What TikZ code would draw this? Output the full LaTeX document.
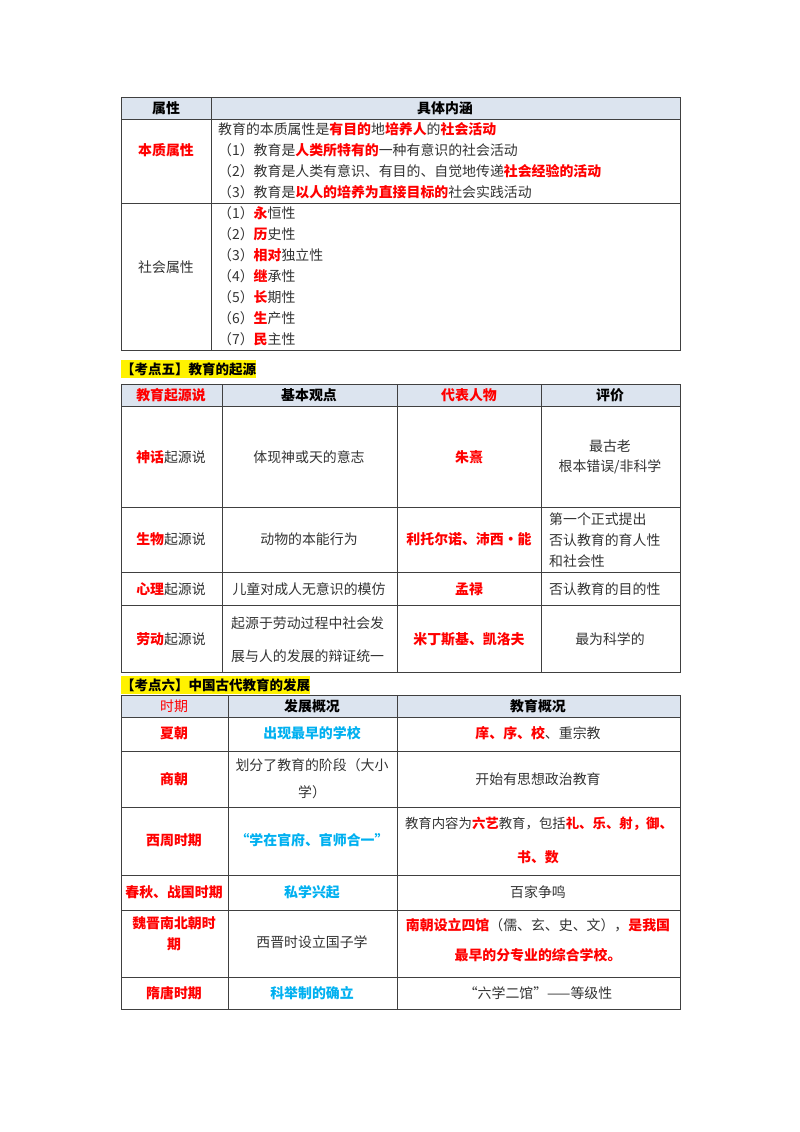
\documentclass[tikz,border=0pt]{standalone}
\usepackage{fontspec}
\setmainfont{Noto Sans CJK SC}
\definecolor{rd}{HTML}{FF0000}
\definecolor{bl}{HTML}{00B0F0}
\definecolor{hd}{HTML}{DCE4EF}
\definecolor{ln}{HTML}{404040}
\definecolor{tx}{HTML}{333333}
\newcommand{\R}[1]{\textcolor{rd}{\bfseries #1}}
\newcommand{\B}[1]{\textcolor{bl}{\bfseries #1}}
\begin{document}
\begin{tikzpicture}[x=1pt,y=-1pt,
  every node/.style={font=\fontsize{13.9}{16}\selectfont,text=tx,inner sep=0pt},
  grid/.style={draw=ln,line width=0.8pt},
  lt/.style={anchor=west},
  hl/.style={anchor=west,fill=yellow,inner xsep=0pt,inner ysep=2.5pt,font=\fontsize{13.5}{16}\selectfont\bfseries,text=black}]
\useasboundingbox (0,0) rectangle (800,1132);
% ---------- table 1
\fill[hd] (121,97) rectangle (680,119);
\draw[grid] (121,97) rectangle (680,350);
\draw[grid] (121,119) -- (680,119) (121,203) -- (680,203) (211,97) -- (211,350);
\node (h1a) at (166,108) {\bfseries\color{black}属性};
\node (h1b) at (445,108) {\bfseries\color{black}具体内涵};
\node (a1) at (166,150) {\R{本质属性}};
\node[lt] (a2) at (218,129) {教育的本质属性是\R{有目的}地\R{培养人}的\R{社会活动}};
\node[lt] (a3) at (218,150) {（1）教育是\R{人类所特有的}一种有意识的社会活动};
\node[lt] (a4) at (218,171) {（2）教育是人类有意识、有目的、自觉地传递\R{社会经验的活动}};
\node[lt] (a5) at (218,192) {（3）教育是\R{以人的培养为直接目标的}社会实践活动};
\node (b1) at (166,267) {社会属性};
\node[lt] (b2) at (218,213) {（1）\R{永}恒性};
\node[lt] (b3) at (218,234) {（2）\R{历}史性};
\node[lt] (b4) at (218,255) {（3）\R{相对}独立性};
\node[lt] (b5) at (218,276) {（4）\R{继}承性};
\node[lt] (b6) at (218,297) {（5）\R{长}期性};
\node[lt] (b7) at (218,318) {（6）\R{生}产性};
\node[lt] (b8) at (218,339) {（7）\R{民}主性};
% ---------- heading 2
\node[hl] (k5) at (121,369) {【考点五】教育的起源};
% ---------- table 2
\fill[hd] (121,384) rectangle (680,406);
\draw[grid] (121,384) rectangle (680,672);
\draw[grid] (121,406) -- (680,406) (121,507) -- (680,507) (121,572) -- (680,572) (121,605) -- (680,605);
\draw[grid] (222,384) -- (222,672) (397,384) -- (397,672) (541,384) -- (541,672);
\node (c1) at (171,395) {\R{教育起源说}};
\node (c2) at (309,395) {\bfseries\color{black}基本观点};
\node (c3) at (469,395) {\R{代表人物}};
\node (c4) at (610,395) {\bfseries\color{black}评价};
\node (d1) at (171,457) {\R{神话}起源说};
\node (d2) at (309,457) {体现神或天的意志};
\node (d3) at (469,457) {\R{朱熹}};
\node (d4) at (610,446) {最古老};
\node (d5) at (610,467) {根本错误/非科学};
\node (e1) at (171,539) {\R{生物}起源说};
\node (e2) at (309,539) {动物的本能行为};
\node (e3) at (469,539) {\R{利托尔诺、沛西·能}};
\node[lt] (e4) at (549,519) {第一个正式提出};
\node[lt] (e5) at (549,540) {否认教育的育人性};
\node[lt] (e6) at (549,561) {和社会性};
\node (f1) at (171,589) {\R{心理}起源说};
\node (f2) at (309,589) {儿童对成人无意识的模仿};
\node (f3) at (469,589) {\R{孟禄}};
\node[lt] (f4) at (549,589) {否认教育的目的性};
\node (g1) at (171,639) {\R{劳动}起源说};
\node[lt] (g2) at (231,623) {起源于劳动过程中社会发};
\node[lt] (g3) at (231,656) {展与人的发展的辩证统一};
\node (g4) at (469,639) {\R{米丁斯基、凯洛夫}};
\node (g5) at (610,639) {最为科学的};
% ---------- heading 3
\node[hl] (k6) at (121,685) {【考点六】中国古代教育的发展};
% ---------- table 3
\fill[hd] (121,695) rectangle (680,717);
\draw[grid] (121,695) rectangle (680,1009);
\draw[grid] (121,717) -- (680,717) (121,751) -- (680,751) (121,807) -- (680,807) (121,875) -- (680,875) (121,910) -- (680,910) (121,977) -- (680,977);
\draw[grid] (228,695) -- (228,1009) (397,695) -- (397,1009);
\node (p1) at (174,706) {\textcolor{rd}{时期}};
\node (p2) at (312,706) {\bfseries\color{black}发展概况};
\node (p3) at (538,706) {\bfseries\color{black}教育概况};
\node (q1) at (174,733) {\R{夏朝}};
\node (q2) at (312,733) {\B{出现最早的学校}};
\node (q3) at (538,733) {\R{庠、序、校}、重宗教};
\node (r1) at (174,779) {\R{商朝}};
\node (r2) at (312,765) {划分了教育的阶段（大小};
\node (r3) at (312,792) {学）};
\node (r4) at (538,779) {开始有思想政治教育};
\node (s1) at (174,840) {\R{西周时期}};
\node (s2) at (312,840) {\B{“学在官府、官师合一”}};
\node[font=\fontsize{13.4}{16}\selectfont] (s3) at (539,824) {教育内容为\R{六艺}教育，包括\R{礼、乐、射，御、}};
\node (s4) at (538,857) {\R{书、数}};
\node (t1) at (174,892) {\R{春秋、战国时期}};
\node (t2) at (312,892) {\B{私学兴起}};
\node (t3) at (538,892) {百家争鸣};
\node (u1) at (174,923) {\R{魏晋南北朝时}};
\node (u2) at (174,944) {\R{期}};
\node (u3) at (312,942) {西晋时设立国子学};
\node (u4) at (538,925) {\R{南朝设立四馆}（儒、玄、史、文），\R{是我国}};
\node (u5) at (538,955) {\R{最早的分专业的综合学校。}};
\node (w1) at (174,993) {\R{隋唐时期}};
\node (w2) at (312,993) {\B{科举制的确立}};
\node (w3) at (538,993) {“六学二馆”——等级性};
\end{tikzpicture}
\end{document}
